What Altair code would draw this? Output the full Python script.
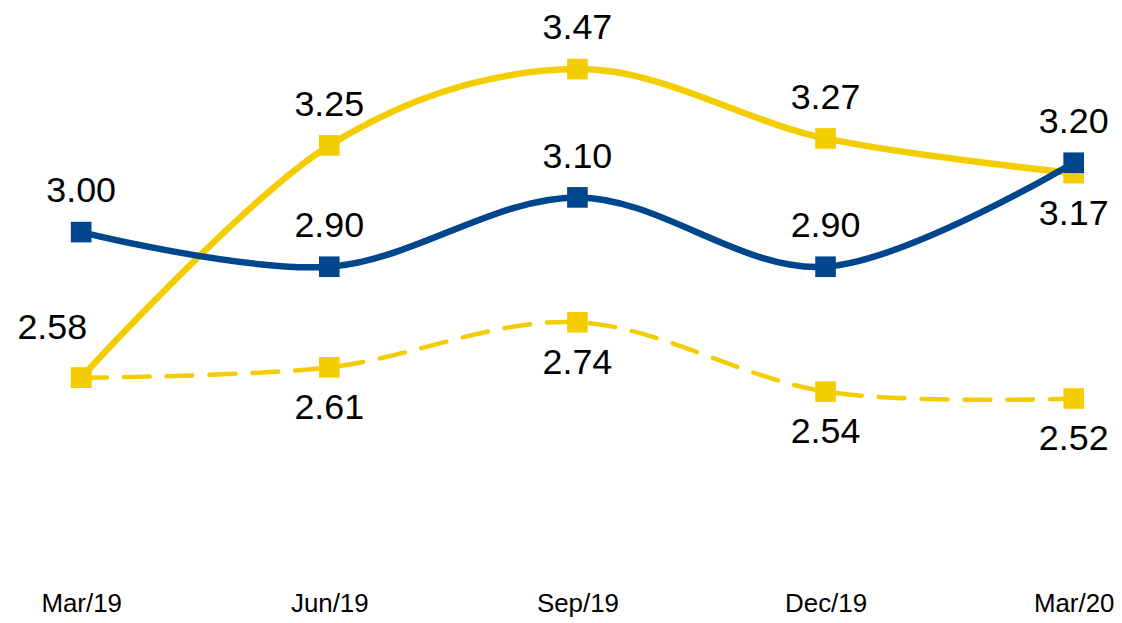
import altair as alt
import pandas as pd

periods = ["Mar/19", "Jun/19", "Sep/19", "Dec/19", "Mar/20"]
blue_vals = [3.00, 2.90, 3.10, 2.90, 3.20]
yellow_vals = [2.58, 3.25, 3.47, 3.27, 3.17]
dashed_vals = [2.58, 2.61, 2.74, 2.54, 2.52]

BLUE = "#00468C"
YELLOW = "#F3CD00"
FONT = "Liberation Sans"

rows = []
for name, vals in [("dashed", dashed_vals), ("yellow", yellow_vals), ("blue", blue_vals)]:
    for i, v in enumerate(vals):
        rows.append({"series": name, "i": i, "period": periods[i], "value": v,
                     "label": f"{v:.2f}"})
df = pd.DataFrame(rows)

label_expr = "[" + ",".join(f"'{p}'" for p in periods) + "][datum.value]"

x_enc = alt.X("i:Q",
              scale=alt.Scale(domain=[0, 4], range=[73.5, 1070.5], nice=False, zero=False),
              axis=alt.Axis(values=[0, 1, 2, 3, 4], labelExpr=label_expr, title=None,
                            domain=False, ticks=False, grid=False, labelFont=FONT,
                            labelFontSize=26, labelColor="#000000", labelPadding=4,
                            labelFlush=False))
y_enc = alt.Y("value:Q",
              scale=alt.Scale(domain=[2.58, 3.47], range=[370, 60], nice=False, zero=False),
              axis=None)

base = alt.Chart(df)


def series_layers(name, color, dash, width):
    src = base.transform_filter(f"datum.series == '{name}'")
    line_kwargs = dict(color=color, strokeWidth=width, interpolate="cardinal")
    if dash:
        line_kwargs["strokeDash"] = dash
        line_kwargs["strokeCap"] = "round"
    line = src.mark_line(**line_kwargs).encode(x=x_enc, y=y_enc)
    pts = src.mark_point(shape="square", filled=True, size=430, color=color,
                         opacity=1).encode(x=x_enc, y=y_enc)
    return line, pts


def text_layer(filt, dx, dy):
    return base.transform_filter(filt).mark_text(
        font=FONT, fontSize=36, color="#000000", baseline="middle", align="center",
        dx=dx, dy=dy).encode(x=x_enc, y=y_enc, text="label:N")


dl, dp = series_layers("dashed", YELLOW, [26, 17], 4.5)
yl, yp = series_layers("yellow", YELLOW, None, 6.5)
bl, bp = series_layers("blue", BLUE, None, 6.5)

labels = [
    text_layer("datum.series == 'blue'", 0, -41),
    text_layer("datum.series == 'yellow' && datum.i >= 1 && datum.i <= 3", 0, -41),
    text_layer("datum.series == 'yellow' && datum.i == 4", 0, 41),
    text_layer("datum.series == 'yellow' && datum.i == 0", -29, -50),
    text_layer("datum.series == 'dashed' && datum.i >= 1", 0, 41),
]

chart = alt.layer(dl, dp, yl, yp, bl, bp, *labels).properties(
    width=1106, height=580,
    autosize=alt.AutoSizeParams(type="pad"),
    padding=0,
).configure_view(stroke=None)

chart.save("out.html", embed_options={"renderer": "svg", "actions": False})
